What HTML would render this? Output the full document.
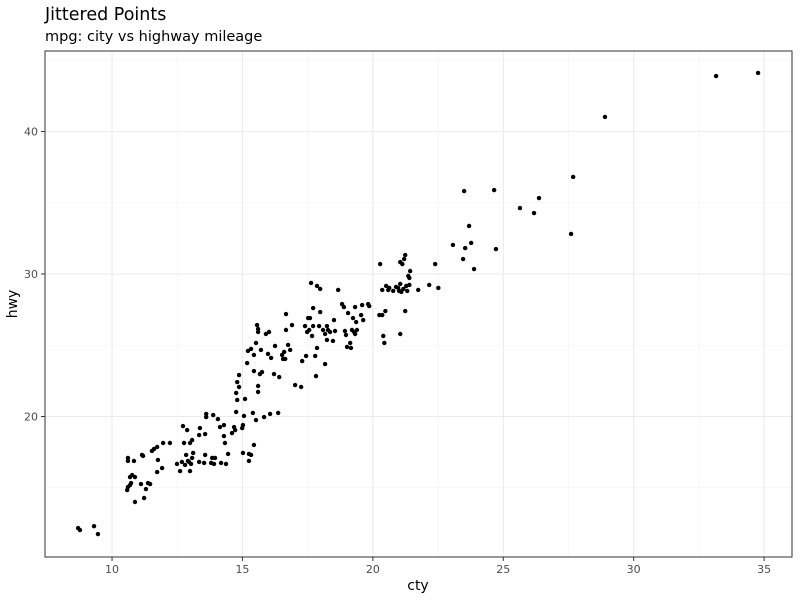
<!DOCTYPE html>
<html><head><meta charset="utf-8"><style>
body{margin:0;background:#fff;font-family:"DejaVu Sans","Liberation Sans",sans-serif}
svg text{font-family:"DejaVu Sans","Liberation Sans",sans-serif}
</style></head><body>
<svg id="chart" width="800" height="600" viewBox="0 0 800 600">
<rect width="800" height="600" fill="#fff"/>
<text x="45" y="20" font-size="17.5" fill="#000">Jittered Points</text>
<text x="45" y="41" font-size="14.5" fill="#000">mpg: city vs highway mileage</text>
<g id="grid"></g>
<g id="points"></g>
<rect x="45" y="51" width="747" height="506" fill="none" stroke="#333" stroke-width="1"/>
<g id="axes"></g>
<text x="418" y="590" font-size="14" text-anchor="middle" fill="#000">cty</text>
<text x="0" y="0" font-size="14" text-anchor="middle" fill="#000" transform="translate(17,304) rotate(-90)">hwy</text>
</svg>
<script>
const xTicks=[10,15,20,25,30,35];
const yTicks=[20,30,40];
const xMinor=[12.5,17.5,22.5,27.5,32.5];
const yMinor=[15,25,35,45];
const cty=[8.70,8.77,9.31,9.46,10.58,10.61,10.69,10.73,10.69,10.77,10.88,10.61,10.61,10.84,10.88,11.11,11.15,11.19,11.23,11.30,11.38,11.46,11.53,11.61,11.73,11.76,11.73,11.92,11.96,12.22,12.49,12.61,12.68,12.72,12.76,12.80,12.84,12.91,12.88,12.95,12.99,13.03,12.99,13.07,13.11,13.07,13.34,13.37,13.34,13.57,13.53,13.61,13.61,13.57,13.80,13.88,13.84,13.91,13.95,14.06,14.14,14.18,14.29,14.29,14.33,14.37,14.45,14.60,14.68,14.76,14.72,14.80,14.76,14.80,14.87,14.87,14.99,15.02,15.02,15.06,15.10,15.18,15.21,15.25,15.33,15.25,15.33,15.44,15.40,15.44,15.44,15.52,15.56,15.60,15.60,15.52,15.60,15.60,15.67,15.71,15.75,15.83,15.90,15.98,16.02,16.06,16.10,16.21,16.25,16.37,16.41,16.52,16.56,16.60,16.64,16.67,16.67,16.75,16.83,16.90,17.02,17.25,17.29,17.40,17.44,17.48,17.52,17.56,17.59,17.63,17.67,17.71,17.71,17.79,17.82,17.86,17.86,17.94,17.98,17.98,18.09,18.17,18.17,18.24,18.24,18.28,18.36,18.47,18.51,18.55,18.67,18.82,18.89,18.93,18.97,19.01,19.05,19.13,19.16,19.20,19.24,19.28,19.32,19.32,19.36,19.39,19.55,19.63,19.82,19.86,19.59,20.28,20.25,20.36,20.40,20.44,20.48,20.36,20.51,20.59,20.63,20.78,20.89,20.97,21.05,21.01,21.05,21.09,21.05,21.13,21.17,21.20,21.24,21.24,21.28,21.32,21.36,21.40,21.43,21.40,21.74,22.16,22.39,22.51,23.07,23.46,23.50,23.54,23.69,23.77,23.88,24.65,24.72,25.64,26.18,26.37,27.60,27.68,28.90,33.16,34.77];
const hwy=[12.17,12.03,12.30,11.75,14.84,15.05,15.19,15.33,15.75,15.89,15.75,16.88,17.09,16.88,14.00,15.26,17.30,17.23,14.28,14.91,15.33,15.26,17.58,17.72,17.86,16.95,16.10,16.38,18.14,18.14,16.67,16.17,16.81,19.33,18.14,16.60,17.30,16.88,19.05,16.81,16.17,16.67,18.14,18.35,17.44,17.09,18.70,19.19,16.81,17.30,16.74,19.96,20.18,18.77,16.74,20.10,17.09,16.67,17.09,19.82,19.26,16.74,19.40,18.63,18.14,16.67,17.37,18.84,19.26,20.32,19.05,21.16,21.65,22.42,22.07,22.91,19.19,19.40,17.44,20.04,21.23,23.75,24.60,16.88,24.74,17.37,17.30,18.00,20.25,23.19,24.32,25.16,26.42,26.14,25.93,19.75,21.72,22.14,22.98,24.67,23.12,19.96,25.79,24.39,25.93,20.18,24.11,22.98,24.95,20.25,22.77,24.32,24.04,24.53,24.04,27.19,26.07,25.02,24.67,26.42,22.21,22.07,23.89,26.35,24.25,25.93,26.91,26.07,26.91,29.37,25.65,26.35,27.61,24.25,22.84,29.16,24.81,26.35,28.95,27.33,26.07,25.79,23.68,26.35,25.37,26.07,25.93,25.30,26.77,26.00,28.88,27.89,27.68,26.00,25.72,24.88,27.26,25.16,24.81,26.07,26.91,25.93,27.68,25.79,26.63,26.07,27.12,26.77,27.89,27.75,27.82,30.70,27.12,27.12,25.65,25.16,27.40,28.88,29.16,28.88,29.02,28.81,29.09,29.02,29.30,28.81,25.79,28.74,30.84,30.70,28.95,31.05,31.33,27.40,29.16,28.81,29.86,29.72,30.21,29.23,28.88,29.23,30.70,29.02,32.04,31.05,35.82,31.82,33.37,32.18,30.35,35.89,31.75,34.63,34.28,35.33,32.81,36.81,41.02,43.89,44.11];
const L=45,R=792,T=51,B=557;
const xMin=7.43,xMax=36.07,yMin=10.14,yMax=45.65;
function sx(v){return L+(v-xMin)/(xMax-xMin)*(R-L);}
function sy(v){return B-(v-yMin)/(yMax-yMin)*(B-T);}
const NS='http://www.w3.org/2000/svg';
function mk(tag,attrs,parent){const e=document.createElementNS(NS,tag);for(const k in attrs)e.setAttribute(k,attrs[k]);parent.appendChild(e);return e;}
const grid=document.getElementById('grid'),axes=document.getElementById('axes'),pts=document.getElementById('points');
xMinor.forEach(v=>{const l=mk('line',{x1:sx(v),x2:sx(v),y1:T,y2:B,stroke:'#f2f2f2','stroke-width':0.6},grid);

});
yMinor.forEach(v=>{if(sy(v)<T)return;const l=mk('line',{x1:L,x2:R,y1:sy(v),y2:sy(v),stroke:'#f2f2f2','stroke-width':0.6},grid);

});
xTicks.forEach(v=>{const l=mk('line',{x1:sx(v),x2:sx(v),y1:T,y2:B,stroke:'#ebebeb','stroke-width':1.1},grid);


const t=mk('line',{x1:sx(v),x2:sx(v),y1:B,y2:B+4,stroke:'#333','stroke-width':1},axes);


const tx=mk('text',{x:sx(v),y:B+16,'font-size':11,'text-anchor':'middle',fill:'#4d4d4d'},axes);tx.textContent=v;

});
yTicks.forEach(v=>{const l=mk('line',{x1:L,x2:R,y1:sy(v),y2:sy(v),stroke:'#ebebeb','stroke-width':1.1},grid);


const t=mk('line',{x1:L-4,x2:L,y1:sy(v),y2:sy(v),stroke:'#333','stroke-width':1},axes);


const tx=mk('text',{x:L-7,y:sy(v)+4,'font-size':11,'text-anchor':'end',fill:'#4d4d4d'},axes);tx.textContent=v;

});
cty.forEach((c,i)=>{const p=mk('circle',{cx:sx(c),cy:sy(hwy[i]),r:2.2,fill:'#000'},pts);

});
</script>
</body></html>
